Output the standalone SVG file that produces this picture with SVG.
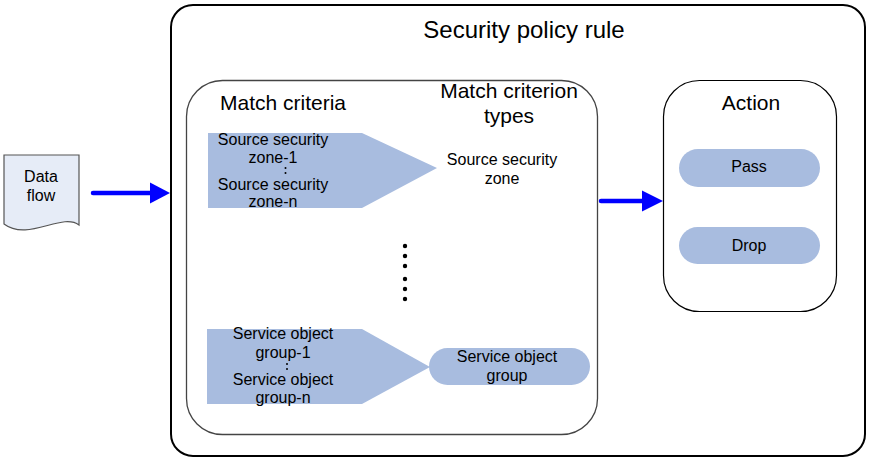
<svg xmlns="http://www.w3.org/2000/svg" width="870" height="462" viewBox="0 0 870 462">
<style>
text{font-family:"Liberation Sans",Arial,sans-serif;fill:#000;text-anchor:middle}
.t{font-size:24px}
.h{font-size:21px}
.s{font-size:16px}
.fill{fill:#A8BCDF}
.arrow{stroke:#0000FF;stroke-width:4.5;stroke-linecap:round;fill:none}
.head{fill:#0000FF}
</style>
<rect width="870" height="462" fill="#fff"/>
<g id="data-flow">
<path d="M4,155 H79 V225 C62,212 28,242 4,224 Z" fill="#E6ECF7" stroke="#555" stroke-width="1.2"/>
<text class="s" x="41" y="182">Data</text>
<text class="s" x="41" y="201">flow</text>
</g>
<g id="security-policy-rule">
<rect x="171" y="5" width="694" height="451" rx="22" ry="22" fill="none" stroke="#000" stroke-width="2"/>
<text class="t" x="524" y="38">Security policy rule</text>
</g>
<g id="match-box">
<rect x="186.5" y="80.5" width="411" height="354" rx="36" ry="36" fill="#fff" stroke="#444" stroke-width="1.3"/>
<text class="h" x="283" y="110">Match criteria</text>
<text class="h" x="509" y="98">Match criterion</text>
<text class="h" x="509" y="123">types</text>
</g>
<g id="source-zones">
<polygon class="fill" points="208,133 362,133 437,168 362,208 208,208"/>
<text class="s" x="273" y="145">Source security</text>
<text class="s" x="273" y="163">zone-1</text>
<circle cx="285.5" cy="168" r="1"/>
<circle cx="285.5" cy="173" r="1"/>
<text class="s" x="273" y="190">Source security</text>
<text class="s" x="273" y="207">zone-n</text>
</g>
<g id="source-security-zone">
<text class="s" x="502" y="165">Source security</text>
<text class="s" x="502" y="184">zone</text>
</g>
<g id="ellipsis">
<circle cx="405" cy="246" r="2.2"/>
<circle cx="405" cy="256" r="2.2"/>
<circle cx="405" cy="266" r="2.2"/>
<circle cx="405" cy="279" r="2.2"/>
<circle cx="405" cy="289" r="2.2"/>
<circle cx="405" cy="299" r="2.2"/>
</g>
<g id="service-groups">
<polygon class="fill" points="207,329 362,329 430,367 362,404 207,404"/>
<text class="s" x="283" y="339">Service object</text>
<text class="s" x="283" y="358">group-1</text>
<circle cx="287" cy="364" r="1"/>
<circle cx="287" cy="369" r="1"/>
<text class="s" x="283" y="385">Service object</text>
<text class="s" x="283" y="403">group-n</text>
</g>
<g id="service-object-group">
<rect class="fill" x="429" y="348" width="161" height="37" rx="18.5" ry="18.5"/>
<text class="s" x="507" y="362">Service object</text>
<text class="s" x="507" y="381">group</text>
</g>
<g id="action">
<rect x="663.5" y="80.5" width="173" height="231" rx="36" ry="36" fill="#fff" stroke="#000" stroke-width="1.2"/>
<text class="h" x="751" y="110">Action</text>
</g>
<g id="pass">
<rect class="fill" x="679" y="149" width="141" height="38" rx="19" ry="19"/>
<text class="s" x="749" y="172">Pass</text>
</g>
<g id="drop">
<rect class="fill" x="679" y="227" width="141" height="37" rx="18.5" ry="18.5"/>
<text class="s" x="749" y="251">Drop</text>
</g>
<g id="connectors">
<line class="arrow" x1="93" y1="193" x2="152" y2="193"/>
<polygon class="head" points="150,182.5 170,193 150,203.5"/>
<line class="arrow" x1="601" y1="201" x2="644" y2="201"/>
<polygon class="head" points="642,190.5 663,201 642,211.5"/>
</g>
</svg>
